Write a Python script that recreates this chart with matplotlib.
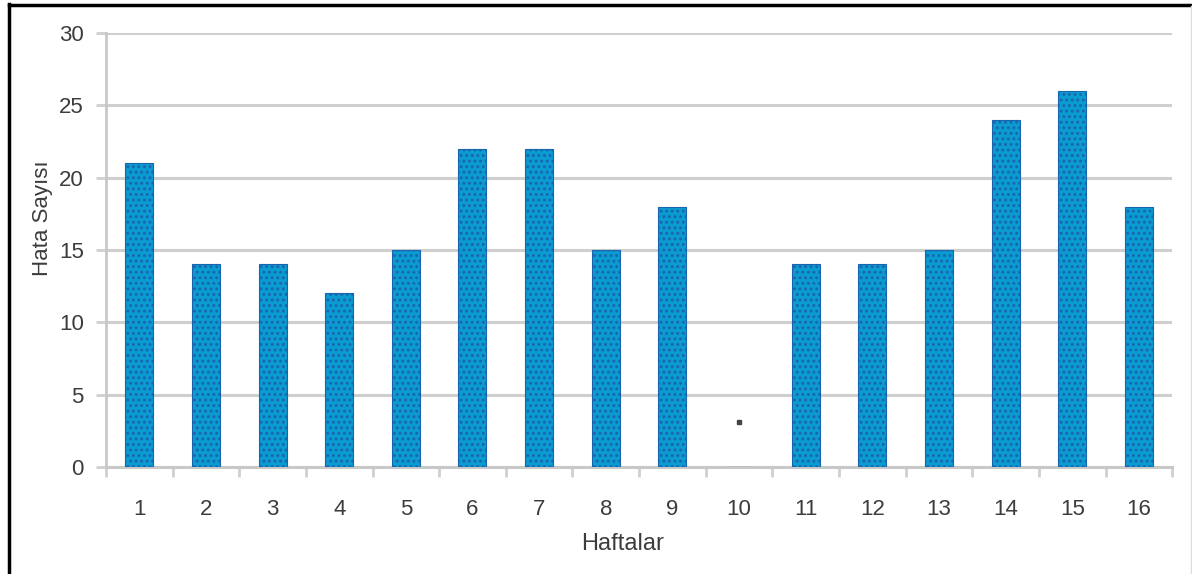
import numpy as np
import matplotlib.pyplot as plt
from matplotlib.lines import Line2D

# weekly error counts
weeks = [str(i) for i in range(1, 17)]
errors = [21, 14, 14, 12, 15, 22, 22, 15, 18, 0, 14, 14, 15, 24, 26, 18]

yticks = [0, 5, 10, 15, 20, 25, 30]

plt.rcParams['font.family'] = ['Liberation Sans', 'DejaVu Sans']
plt.rcParams['hatch.linewidth'] = 1.3

fig = plt.figure(figsize=(11.92, 5.74), dpi=100)
ax = fig.add_axes([0.0889, 0.1864, 0.8945, 0.7561])

x = np.arange(len(weeks))
ax.bar(x, errors, width=0.42, color='#0a9bd0', edgecolor='#1a64ad',
       linewidth=0.8, hatch='...', zorder=3)

# stray mark in week 10
ax.plot([9], [3.1], marker='s', ms=3.5, color='#444444', ls='none', zorder=4)

ax.set_xlim(-0.5, len(weeks) - 0.5)
ax.set_ylim(0, 30)
ax.set_yticks(yticks)
ax.set_xticks(x)
ax.set_xticklabels(weeks)
ax.set_xticks(np.arange(-0.5, len(weeks), 1), minor=True)

ax.yaxis.grid(True, color='#cfcfcf', linewidth=2.2, zorder=0)
ax.set_axisbelow(True)

for s in ['top', 'right']:
    ax.spines[s].set_visible(False)
ax.spines['left'].set_color('#c8c8c8')
ax.spines['left'].set_linewidth(2)
ax.spines['bottom'].set_color('#c8c8c8')
ax.spines['bottom'].set_linewidth(2.2)

ax.tick_params(axis='y', length=7, width=2, color='#cfcfcf', pad=9,
               labelsize=16, labelcolor='#3c3c3c')
ax.tick_params(axis='x', which='major', length=0, pad=23,
               labelsize=16, labelcolor='#3c3c3c')
ax.tick_params(axis='x', which='minor', length=7, width=2, color='#cfcfcf')

fig.text(0.036, 0.62, 'Hata Sayısı', rotation=90, ha='center', va='center',
         fontsize=16, color='#3c3c3c')
fig.text(0.522, 0.053, 'Haftalar', ha='center', va='center',
         fontsize=17, color='#3c3c3c')

# frame lines around the figure
fig.add_artist(Line2D([0.0075, 0.0075], [0, 0.993], transform=fig.transFigure,
                      color='black', lw=2.5))
fig.add_artist(Line2D([0.0075, 1.0], [0.991, 0.991], transform=fig.transFigure,
                      color='black', lw=2.5))
fig.add_artist(Line2D([0.999, 0.999], [0, 0.99], transform=fig.transFigure,
                      color='#dddddd', lw=1))

fig.savefig('out.png', dpi=100)
